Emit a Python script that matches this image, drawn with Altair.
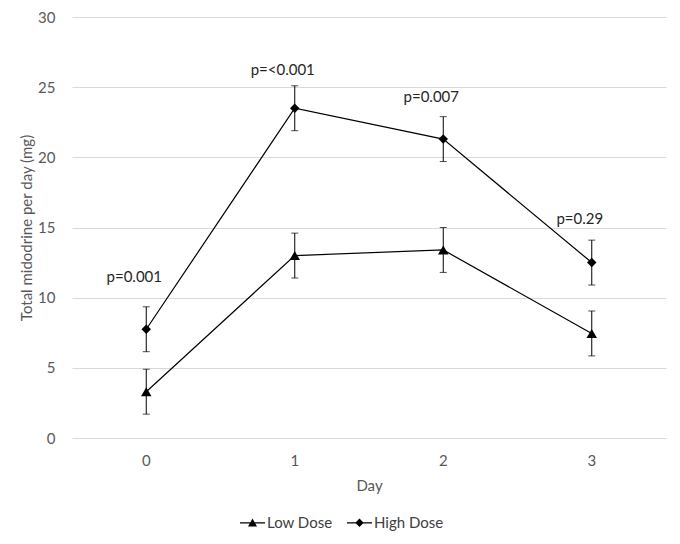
import altair as alt
import pandas as pd

days = [0, 1, 2, 3]
series = ["Low Dose", "High Dose"]
low_mean = [3.3, 13.0, 13.4, 7.45]
low_err = [1.6, 1.6, 1.6, 1.6]
high_mean = [7.75, 23.5, 21.3, 12.5]
high_err = [1.6, 1.6, 1.6, 1.6]
p_labels = ["p=0.001", "p=<0.001", "p=0.007", "p=0.29"]
p_label_y = [11.5, 26.2, 24.3, 15.6]

rows = []
for name, means, errs in [("Low Dose", low_mean, low_err), ("High Dose", high_mean, high_err)]:
    for d, m, e in zip(days, means, errs):
        rows.append({"day": d, "series": name, "series_pt": name, "mean": m, "lo": m - e, "hi": m + e})
df = pd.DataFrame(rows)
ann = pd.DataFrame({"day": days, "label": p_labels, "y": p_label_y})

FONT = "Lato"
GREY = "#595959"

x = alt.X("day:O", title="Day",
          scale=alt.Scale(paddingInner=0, paddingOuter=0),
          axis=alt.Axis(labelAngle=0, domain=False, ticks=False, labelPadding=15,
                        titlePadding=10))
y_scale = alt.Scale(domain=[0, 30], nice=False)
y = alt.Y("mean:Q", title="Total midodrine per day (mg)", scale=y_scale,
          axis=alt.Axis(values=[0, 5, 10, 15, 20, 25, 30], domain=False, ticks=False,
                        labelPadding=17, titlePadding=3, gridColor="#d9d9d9"))

base = alt.Chart(df)

lines = base.mark_line(color="black", strokeWidth=1.2).encode(
    x=x, y=y, detail="series:N")

rules = base.mark_rule(color="black", strokeWidth=1).encode(
    x=x, y=alt.Y("lo:Q", scale=y_scale), y2="hi:Q")
caps_hi = base.mark_tick(color="black", size=7, thickness=1).encode(
    x=x, y=alt.Y("hi:Q", scale=y_scale))
caps_lo = base.mark_tick(color="black", size=7, thickness=1).encode(
    x=x, y=alt.Y("lo:Q", scale=y_scale))

points = base.mark_point(filled=True, color="black", opacity=1).encode(
    x=x, y=alt.Y("mean:Q", scale=y_scale),
    shape=alt.Shape("series_pt:N",
                    scale=alt.Scale(domain=series, range=["triangle-up", "diamond"]),
                    legend=None),
    size=alt.Size("series_pt:N", scale=alt.Scale(domain=series, range=[110, 90]), legend=None))

legend = alt.Legend(
    title=None, orient="none", direction="horizontal", legendX=168, legendY=493,
    symbolSize=625, symbolStrokeWidth=0, labelOffset=2, columnPadding=14,
    symbolFillColor="black", symbolStrokeColor="black", symbolOpacity=1)

legend_layer = base.mark_point(filled=True, color="black").encode(
    x=x, y=alt.Y("mean:Q", scale=y_scale),
    shape=alt.Shape("series:N",
                    scale=alt.Scale(domain=series, range=[
                        "M-1,-0.05H1V0.05H-1ZM0,-0.34L0.36,0.3L-0.36,0.3Z",
                        "M-1,-0.05H1V0.05H-1ZM0,-0.34L0.34,0L0,0.34L-0.34,0Z"]),
                    legend=legend)
).transform_filter("false")

texts = alt.Chart(ann).mark_text(font=FONT, fontSize=15, color="#262626", dx=-12).encode(
    x=x, y=alt.Y("y:Q", scale=y_scale), text="label:N")

chart = alt.layer(lines, rules, caps_hi, caps_lo, points, legend_layer, texts).resolve_scale(
    shape="independent", size="independent"
).properties(
    width=594, height=421,
    autosize=alt.AutoSizeParams(type="none"),
    padding={"left": 64, "top": 9, "right": 6, "bottom": 100},
).configure_view(stroke=None).configure_axis(
    labelFont=FONT, titleFont=FONT, labelFontSize=15, titleFontSize=15,
    labelColor=GREY, titleColor=GREY, titleFontWeight="normal"
).configure_legend(labelFont=FONT, labelFontSize=15, labelColor="#404040")

chart.save("out.html", embed_options={"renderer": "svg", "actions": False})
